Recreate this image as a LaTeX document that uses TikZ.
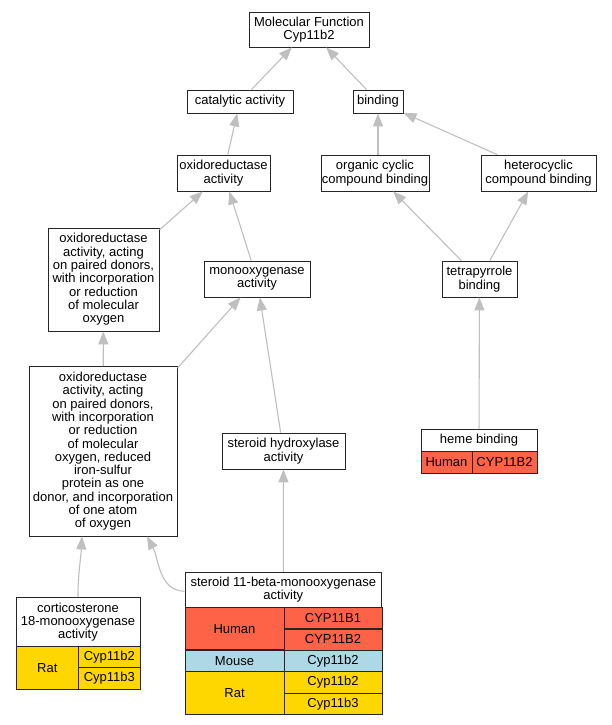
\documentclass[tikz,border=0pt]{standalone}
\usepackage{fontspec}
\setmainfont{Liberation Sans}
\usepackage{xcolor}
\usetikzlibrary{arrows.meta, positioning}
\definecolor{humancol}{HTML}{FF6347}
\definecolor{mousecol}{HTML}{ADD8E6}
\definecolor{ratcol}{HTML}{FFD700}
\newcommand{\GoFont}{\fontsize{13}{13.33}\selectfont}

\begin{document}
\begin{tikzpicture}[
	x=1pt, y=-1pt,
	term/.style={
		draw=black!85,
		fill=white,
		line width=0.9pt,
		align=center,
		inner sep=0pt,
		font=\GoFont
	},
	cell/.style={
		draw=black!85,
		line width=0.9pt,
		inner sep=0pt,
		font=\GoFont
	},
	edge/.style={
		draw=black!25,
		line width=1.1pt,
		-{Triangle[length=13pt,width=10pt]}
	}
]
	\useasboundingbox[fill=white] (0,0) rectangle (612,725);
	% terms
	\node[term, minimum width=120, minimum height=35] (mf) at (309,29.5) {Molecular Function\\Cyp11b2};
	\node[term, minimum width=106, minimum height=23] (cat) at (240,101.5) {catalytic activity};
	\node[term, minimum width=50, minimum height=23] (bind) at (378,101.5) {binding};
	\node[term, minimum width=93, minimum height=36] (oxact) at (223.5,173) {oxidoreductase\\activity};
	\node[term, minimum width=108, minimum height=36] (orgc) at (375,173) {organic cyclic\\compound binding};
	\node[term, minimum width=115, minimum height=36] (hetc) at (538.5,173) {heterocyclic\\compound binding};
	\node[term, minimum width=111, minimum height=103] (oxpair) at (103.5,279.5) {oxidoreductase\\activity, acting\\on paired donors,\\with incorporation\\or reduction\\of molecular\\oxygen};
	\node[term, minimum width=106, minimum height=36] (mono) at (257,279) {monooxygenase\\activity};
	\node[term, minimum width=75, minimum height=36] (tetra) at (479.5,279) {tetrapyrrole\\binding};
	\node[term, minimum width=148, minimum height=169.3] (oxfes) at (103,451.3) {oxidoreductase\\activity, acting\\on paired donors,\\with incorporation\\or reduction\\of molecular\\oxygen, reduced\\iron-sulfur\\protein as one\\donor, and incorporation\\of one atom\\of oxygen};
	\node[term, minimum width=123, minimum height=36] (sthyd) at (283.5,451) {steroid hydroxylase\\activity};
	% annotated terms with gene tables
	\node[term, minimum width=116, minimum height=22] (heme) at (479,440) {heme binding};
	\node[term, minimum width=124, minimum height=50] (cort) at (78,622) {corticosterone\\18-monooxygenase\\activity};
	\node[term, minimum width=196.7, minimum height=35] (st11) at (283.3,589.8) {steroid 11-beta-monooxygenase\\activity};
	\foreach \n/\x/\y/\w/\h/\c/\t in {
		heme h/446.5/462/51/22/humancol/Human,
		heme h1/504.5/462/65/22/humancol/CYP11B2,
		cort r/47.3/668/62.6/42.3/ratcol/Rat,
		cort r1/109.3/657.3/61.3/21/ratcol/Cyp11b2,
		cort r2/109.3/678.3/61.3/21.3/ratcol/Cyp11b3,
		st11 h/234.5/628.6/99/42.6/humancol/Human,
		st11 h1/333/618.1/98/21.6/humancol/CYP11B1,
		st11 h2/333/639.5/98/21.1/humancol/CYP11B2,
		st11 m/234.5/660.9/99/21.7/mousecol/Mouse,
		st11 m1/333/660.9/98/21.7/mousecol/Cyp11b2,
		st11 r/234.5/693/99/42.6/ratcol/Rat,
		st11 r1/333/682.5/98/21.6/ratcol/Cyp11b2,
		st11 r2/333/703.8/98/21/ratcol/Cyp11b3} {
		\node[cell, fill=\c, minimum width=\w, minimum height=\h] (\n) at (\x,\y) {\t};
	}
	% is-a links
	\draw[edge] (cat) -- (mf);
	\draw[edge] (bind) -- (mf);
	\draw[edge] (oxact) -- (cat);
	\draw[edge] (orgc.north -| bind.south) -- (bind.south);
	\draw[edge] (hetc) -- (bind);
	\draw[edge] (oxpair) -- (oxact);
	\draw[edge] (mono) -- (oxact);
	\draw[edge] (oxfes) -- (oxpair);
	\draw[edge] (oxfes) -- (mono);
	\draw[edge] (sthyd) -- (mono);
	\draw[edge] (tetra) -- (orgc);
	\draw[edge] (tetra) -- (hetc);
	\draw[edge] (heme) -- (tetra);
	\draw[edge] (st11) -- (sthyd);
	\draw[edge] ([yshift=-1.5]st11.west) to[out=178, in=-62] ([xshift=44]oxfes.south);
	\draw[edge] (cort.north) to[out=90, in=-93] ([xshift=-21]oxfes.south);
\end{tikzpicture}
\end{document}
